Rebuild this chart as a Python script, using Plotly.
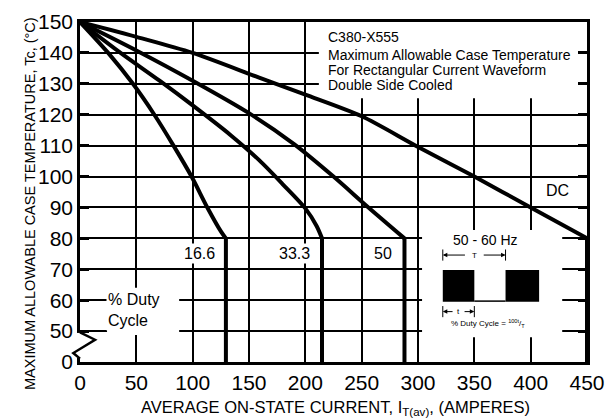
import plotly.graph_objects as go

# ---- data ----
x_166 = [0, 25, 47, 66, 83, 99, 113, 125.5, 129.5, 129.5]
y_166 = [150, 140, 130, 120, 110, 100, 90, 82, 80, 40]

x_333 = [0, 36, 70.6, 100, 134, 159, 180, 200, 210, 214.8, 214.8]
y_333 = [150, 140, 131, 123, 113.3, 105.3, 97.5, 89.7, 84, 80, 40]

x_50 = [0, 50, 100, 150, 190, 225, 256, 288, 288]
y_50 = [150, 140.8, 131, 120.5, 110.5, 100, 90, 80, 40]

x_dc = [0, 50, 100, 159, 200, 250, 298, 350, 400, 450, 450]
y_dc = [150, 145.2, 140, 132, 126.5, 119.5, 110, 100, 90, 80, 40]

series_names = ["16.6", "33.3", "50", "DC"]

x_ticks = [0, 50, 100, 150, 200, 250, 300, 350, 400, 450]
y_tickvals = [40, 50, 60, 70, 80, 90, 100, 110, 120, 130, 140, 150]
y_ticktext = ["0", "50", "60", "70", "80", "90", "100", "110", "120", "130", "140", "150"]

header_lines = ["C380-X555", "Maximum Allowable Case Temperature",
                "For Rectangular Current Waveform", "Double Side Cooled"]

X_RANGE = [0, 450]
Y_RANGE = [40, 150]

FONT = "Liberation Sans, Arial, Helvetica, sans-serif"

fig = go.Figure()
for xs, ys, nm in zip([x_166, x_333, x_50, x_dc], [y_166, y_333, y_50, y_dc], series_names):
    # sloped (curved) part
    fig.add_trace(go.Scatter(x=xs[:-1], y=ys[:-1], mode="lines", name=nm,
                             line=dict(color="black", width=4, shape="spline", smoothing=0.8),
                             hoverinfo="skip", showlegend=False))
    # vertical drop at the current limit
    fig.add_trace(go.Scatter(x=xs[-2:], y=ys[-2:], mode="lines", name=nm,
                             line=dict(color="black", width=4),
                             hoverinfo="skip", showlegend=False))


def xp(a):
    return (a - X_RANGE[0]) / (X_RANGE[1] - X_RANGE[0])


def yp(v):
    return (v - Y_RANGE[0]) / (Y_RANGE[1] - Y_RANGE[0])


shapes = []
# white boxes behind text blocks (between grid and traces)
for x0, x1, y0, y1 in [(212, 450, 125.3, 150), (303.6, 428, 48, 82.7), (24, 88, 48.7, 64)]:
    shapes.append(dict(type="rect", xref="x", yref="y", x0=x0, x1=x1, y0=y0, y1=y1,
                       fillcolor="white", line=dict(width=0), layer="between"))

# inset waveform
for x0, x1 in [(322, 350), (377.7, 407.5)]:
    shapes.append(dict(type="rect", xref="x", yref="y", x0=x0, x1=x1, y0=59.5, y1=69.75,
                       fillcolor="black", line=dict(width=0), layer="above"))
shapes.append(dict(type="line", xref="x", yref="y", x0=350, x1=377.7, y0=59.7, y1=59.7,
                   line=dict(color="black", width=1.5), layer="above"))
# T dimension end bars
for xx in [322, 377.7]:
    shapes.append(dict(type="line", xref="x", yref="y", x0=xx, x1=xx, y0=72.8, y1=76.4,
                       line=dict(color="black", width=1), layer="above"))
# t dimension end bars
for xx in [322, 350]:
    shapes.append(dict(type="line", xref="x", yref="y", x0=xx, x1=xx, y0=54.5, y1=58.1,
                       line=dict(color="black", width=1), layer="above"))

# axis break (zigzag) on the y axis
shapes.append(dict(type="line", xref="paper", yref="paper", x0=0, x1=0,
                   y0=yp(41.3), y1=yp(49.4), line=dict(color="white", width=6), layer="above"))
shapes.append(dict(type="path", xref="paper", yref="paper",
                   path=f"M 0,{yp(49.6)} L 0.0296,{yp(47.2)} L -0.0132,{yp(42.9)} L 0,{yp(41.1)}",
                   line=dict(color="black", width=2.5), layer="above"))

annotations = []
for line_txt, yy in zip(header_lines, [145.2, 139.4, 134.5, 129.6]):
    annotations.append(dict(xref="x", yref="y", x=218, y=yy, xanchor="left",
                            showarrow=False, text=line_txt,
                            font=dict(family=FONT, size=14, color="black")))
for txt, xx in zip(series_names[:3], [106, 190, 269]):
    annotations.append(dict(xref="x", yref="y", x=xx, y=75.2, text=txt, showarrow=False,
                            bgcolor="white", font=dict(family=FONT, size=16, color="black")))
annotations.append(dict(xref="x", yref="y", x=423.6, y=95.6, text="DC", showarrow=False,
                        font=dict(family=FONT, size=16, color="black")))
annotations.append(dict(xref="x", yref="y", x=23, y=56.8, xanchor="left", align="left",
                        text="% Duty<br>Cycle", showarrow=False, bgcolor="white",
                        font=dict(family=FONT, size=16, color="black")))
annotations.append(dict(xref="x", yref="y", x=360, y=79.4, text="50 - 60 Hz", showarrow=False,
                        font=dict(family=FONT, size=14, color="black")))
# dimension arrows (T and t)
for (head, tail, yy) in [(322, 343, 74.6), (377.7, 357, 74.6), (322, 332, 56.3), (350, 340, 56.3)]:
    annotations.append(dict(xref="x", yref="y", axref="x", ayref="y", x=head, y=yy,
                            ax=tail, ay=yy, text="", showarrow=True, arrowhead=2,
                            arrowsize=0.9, arrowwidth=1, arrowcolor="black"))
annotations.append(dict(xref="x", yref="y", x=350, y=74.6, text="T", showarrow=False,
                        font=dict(family=FONT, size=8, color="black")))
annotations.append(dict(xref="x", yref="y", x=336, y=56.3, text="t", showarrow=False,
                        font=dict(family=FONT, size=8, color="black")))
annotations.append(dict(xref="x", yref="y", x=362, y=52.4,
                        text="% Duty Cycle = <sup>100t</sup>/<sub>T</sub>", showarrow=False,
                        font=dict(family=FONT, size=8, color="black")))
# axis titles
annotations.append(dict(xref="paper", yref="paper", x=0, y=0.5, xshift=-60, yshift=-12,
                        textangle=-90, showarrow=False,
                        text="MAXIMUM ALLOWABLE CASE TEMPERATURE, Tc, (°C)",
                        font=dict(family=FONT, size=14.5, color="black")))
annotations.append(dict(xref="paper", yref="paper", x=0.5, y=0, xshift=2, yshift=-46,
                        yanchor="middle", showarrow=False,
                        text="AVERAGE ON-STATE CURRENT, I<sub>T(av)</sub>, (AMPERES)",
                        font=dict(family=FONT, size=16.5, color="black")))

fig.update_layout(
    width=609, height=420,
    margin=dict(l=80, r=22, t=22, b=58),
    paper_bgcolor="white", plot_bgcolor="white",
    showlegend=False,
    shapes=shapes, annotations=annotations,
    xaxis=dict(range=X_RANGE, tickvals=x_ticks, showgrid=True, gridcolor="black", gridwidth=1.5,
               showline=True, linecolor="black", linewidth=2.5, mirror=True, ticks="",
               zeroline=False, automargin=False,
               tickfont=dict(family=FONT, size=21, color="black")),
    yaxis=dict(range=Y_RANGE, tickvals=y_tickvals, ticktext=y_ticktext, showgrid=True,
               gridcolor="black", gridwidth=1.5, showline=True, linecolor="black", linewidth=2.5,
               mirror="ticks", ticks="inside", ticklen=9, tickwidth=2.5, tickcolor="black",
               zeroline=False, automargin=False,
               tickfont=dict(family=FONT, size=21, color="black")),
)

fig.write_html("out.html", config={"displayModeBar": False},
               post_script="document.body.style.margin='0';")
